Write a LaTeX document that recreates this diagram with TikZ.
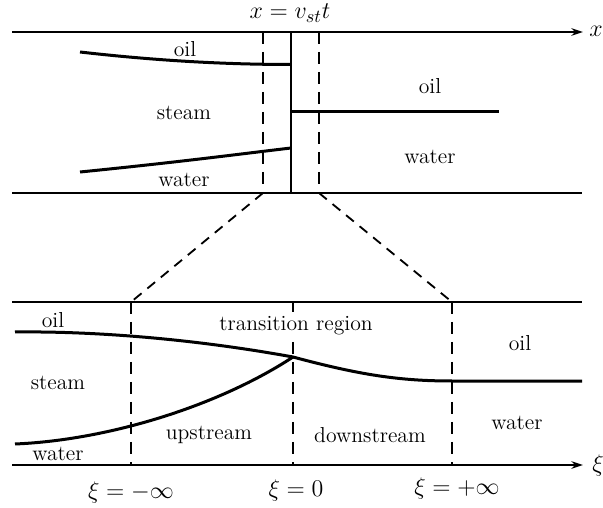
\documentclass[tikz,border=0pt]{standalone}
\usetikzlibrary{arrows.meta}
\begin{document}
\begin{tikzpicture}[x=0.6pt,y=-0.6pt,
  every node/.style={font=\fontsize{13}{15}\selectfont},
  mathlbl/.style={inner sep=1pt,font=\fontsize{15}{17}\selectfont},
  frame/.style={line width=1.15pt},
  axis/.style={line width=1.15pt,-{Stealth[length=7pt,width=4.5pt]}},
  iface/.style={line width=1.8pt},
  dashv/.style={line width=1.1pt,dash pattern=on 7pt off 5pt},
  dashd/.style={line width=1.1pt,dash pattern=on 6pt off 4.5pt},
  lbl/.style={inner sep=1pt}]
\useasboundingbox (0,0) rectangle (603,508);
% top panel
\coordinate (tl) at (12,32); \coordinate (tr) at (583,32);
\coordinate (bl) at (12,193); \coordinate (br) at (582,193);
\draw[axis] (tl) -- (tr);
\node[mathlbl] (xlab) at (596,31) {$x$};
\draw[frame] (bl) -- (br);
\node[mathlbl] (front) at (290,13) {$x=v_{st}t$};
\coordinate (st) at (291,32); \coordinate (sb) at (291,193);
\draw[line width=0.7pt] (st) -- (sb);
\coordinate (dlt) at (263,32); \coordinate (dlb) at (263,193);
\coordinate (drt) at (319,32); \coordinate (drb) at (319,193);
\draw[dashv] (dlt) -- (dlb);
\draw[dashv] (drt) -- (drb);
\coordinate (o1) at (80,52); \coordinate (o2) at (291,64.5);
\draw[iface] (o1) .. controls (150,60) and (220,64.5) .. (o2);
\coordinate (w1) at (80,172); \coordinate (w2) at (291,148);
\draw[iface] (w1) .. controls (180,162) and (240,154) .. (w2);
\coordinate (r1) at (291,112); \coordinate (r2) at (499,112);
\draw[iface] (r1) -- (r2);
\node[lbl] (oilA) at (185,49) {oil};
\node[lbl] (steamA) at (184,113) {steam};
\node[lbl] (waterA) at (184,180) {water};
\node[lbl] (oilB) at (430,86) {oil};
\node[lbl] (waterB) at (430,157) {water};
% zoom lines
\coordinate (zl) at (131,302); \coordinate (zr) at (452,302);
\draw[dashd] (dlb) -- (zl);
\draw[dashd] (drb) -- (zr);
% bottom panel
\coordinate (btl) at (12,302); \coordinate (btr) at (582,302);
\coordinate (bbl) at (12,465); \coordinate (bbr) at (583,465);
\draw[frame] (btl) -- (btr);
\draw[axis] (bbl) -- (bbr);
\node[mathlbl] (xilab) at (598,465) {$\xi$};
\coordinate (m1) at (131,465); \coordinate (m0) at (293,302); \coordinate (m0b) at (293,465);
\coordinate (p1) at (452,465);
\draw[dashv] (zl) -- (m1);
\draw[dashv] (m0) -- (m0b);
\draw[dashv] (zr) -- (p1);
\coordinate (c) at (293,357);
\coordinate (bo1) at (15,332); \coordinate (bo2) at (452,381); \coordinate (bo3) at (582,381);
\draw[iface] (bo1) .. controls (100,331) and (200,340) .. (c)
  .. controls (360,375) and (400,381) .. (bo2) -- (bo3);
\coordinate (bw1) at (15,444);
\draw[iface] (bw1) .. controls (110,440) and (220,405) .. (c);
\node[lbl] (oilC) at (53,320) {oil};
\node[lbl,fill=white,inner ysep=3pt,inner xsep=0pt] (trans) at (296,326) {transition region};
\node[lbl] (oilD) at (520,343) {oil};
\node[lbl] (steamC) at (58,383) {steam};
\node[lbl] (up) at (209,435) {upstream};
\node[lbl] (down) at (370,435) {downstream};
\node[lbl] (waterD) at (517,423) {water};
\node[lbl] (waterC) at (58,454) {water};
\node[mathlbl] (xim) at (131,492) {$\xi=-\infty$};
\node[mathlbl] (xi0) at (296,490) {$\xi=0$};
\node[mathlbl] (xip) at (457,488) {$\xi=+\infty$};
\end{tikzpicture}
\end{document}
